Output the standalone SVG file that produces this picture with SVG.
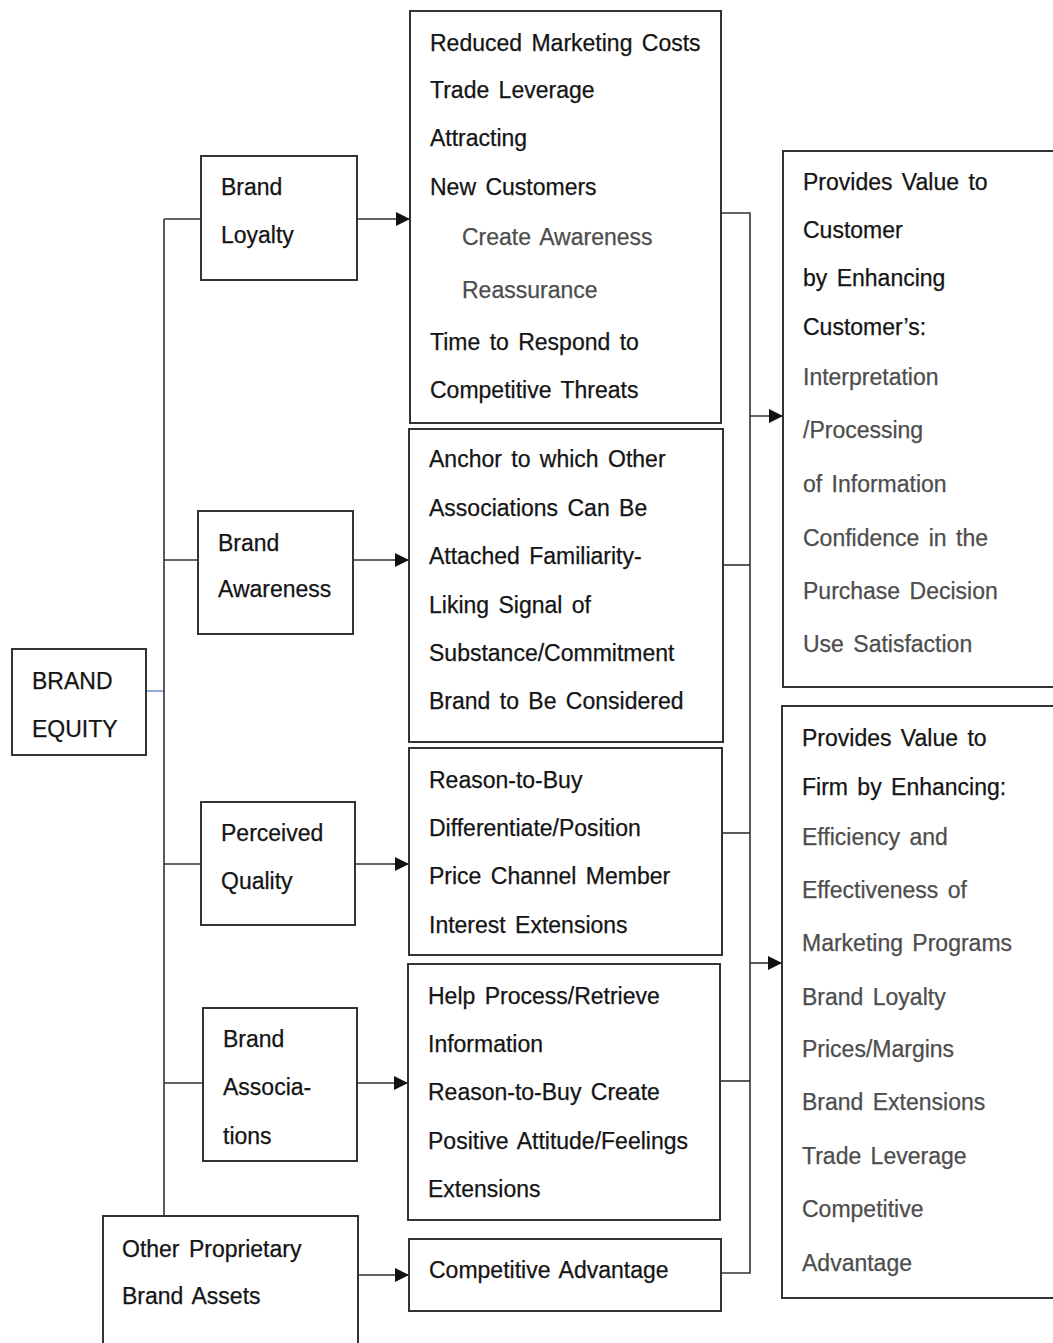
<svg xmlns="http://www.w3.org/2000/svg" width="1053" height="1343" viewBox="0 0 1053 1343">
<style>
  .box { fill: #fff; stroke: #333; stroke-width: 2; }
  .t { font-family: "Liberation Sans", Arial, sans-serif; font-size: 23px; fill: #141414; word-spacing: 3px; stroke: #141414; stroke-width: 0.25; }
  .g { fill: #4d4d4d; stroke: #4d4d4d; }
  .c { fill: none; stroke: #333; stroke-width: 1.6; }
</style>
<defs>
  <marker id="arr" markerUnits="userSpaceOnUse" markerWidth="15" markerHeight="14" refX="14" refY="7" orient="auto">
    <path d="M0,0 L14,7 L0,14 Z" fill="#111"/>
  </marker>
</defs>
<rect width="1053" height="1343" fill="#fff"/>

<g id="connectors">
  <line x1="147" y1="691" x2="164" y2="691" stroke="#4472c4" stroke-width="1.2"/>
  <path class="c" d="M164,219 V1216"/>
  <path class="c" d="M164,219 H201"/>
  <path class="c" d="M164,560 H198"/>
  <path class="c" d="M164,864 H201"/>
  <path class="c" d="M164,1083 H203"/>
  <path class="c" d="M357,219 H410" marker-end="url(#arr)"/>
  <path class="c" d="M353,560 H409" marker-end="url(#arr)"/>
  <path class="c" d="M355,864 H409" marker-end="url(#arr)"/>
  <path class="c" d="M357,1083 H408" marker-end="url(#arr)"/>
  <path class="c" d="M358,1275 H409" marker-end="url(#arr)"/>
  <path class="c" d="M721,213 H750 V1273 H721"/>
  <path class="c" d="M723,565 H750"/>
  <path class="c" d="M722,833 H750"/>
  <path class="c" d="M720,1081 H750"/>
  <path class="c" d="M750,416 H783" marker-end="url(#arr)"/>
  <path class="c" d="M750,963 H782" marker-end="url(#arr)"/>
</g>

<g id="brand-equity">
  <rect class="box" x="12" y="649" width="134" height="106"/>
  <text class="t" x="32" y="689">BRAND</text>
  <text class="t" x="32" y="737">EQUITY</text>
</g>

<g id="brand-loyalty">
  <rect class="box" x="201" y="156" width="156" height="124"/>
  <text class="t" x="221" y="195">Brand</text>
  <text class="t" x="221" y="243">Loyalty</text>
</g>

<g id="brand-awareness">
  <rect class="box" x="198" y="511" width="155" height="123"/>
  <text class="t" x="218" y="551">Brand</text>
  <text class="t" x="218" y="597">Awareness</text>
</g>

<g id="perceived-quality">
  <rect class="box" x="201" y="802" width="154" height="123"/>
  <text class="t" x="221" y="841">Perceived</text>
  <text class="t" x="221" y="889">Quality</text>
</g>

<g id="brand-associations">
  <rect class="box" x="203" y="1008" width="154" height="153"/>
  <text class="t" x="223" y="1047">Brand</text>
  <text class="t" x="223" y="1095">Associa-</text>
  <text class="t" x="223" y="1144">tions</text>
</g>

<g id="other-assets">
  <rect class="box" x="103" y="1216" width="255" height="140"/>
  <text class="t" x="122" y="1257">Other Proprietary</text>
  <text class="t" x="122" y="1304">Brand Assets</text>
</g>

<g id="loyalty-benefits">
  <rect class="box" x="410" y="11" width="311" height="412"/>
  <text class="t" x="430" y="51">Reduced Marketing Costs</text>
  <text class="t" x="430" y="98">Trade Leverage</text>
  <text class="t" x="430" y="146">Attracting</text>
  <text class="t" x="430" y="195">New Customers</text>
  <text class="t g" x="462" y="245">Create Awareness</text>
  <text class="t g" x="462" y="298">Reassurance</text>
  <text class="t" x="430" y="350">Time to Respond to</text>
  <text class="t" x="430" y="398">Competitive Threats</text>
</g>

<g id="awareness-benefits">
  <rect class="box" x="409" y="429" width="314" height="313"/>
  <text class="t" x="429" y="467">Anchor to which Other</text>
  <text class="t" x="429" y="516">Associations Can Be</text>
  <text class="t" x="429" y="564">Attached Familiarity-</text>
  <text class="t" x="429" y="613">Liking Signal of</text>
  <text class="t" x="429" y="661">Substance/Commitment</text>
  <text class="t" x="429" y="709">Brand to Be Considered</text>
</g>

<g id="quality-benefits">
  <rect class="box" x="409" y="748" width="313" height="207"/>
  <text class="t" x="429" y="788">Reason-to-Buy</text>
  <text class="t" x="429" y="836">Differentiate/Position</text>
  <text class="t" x="429" y="884">Price Channel Member</text>
  <text class="t" x="429" y="933">Interest Extensions</text>
</g>

<g id="association-benefits">
  <rect class="box" x="408" y="964" width="312" height="256"/>
  <text class="t" x="428" y="1004">Help Process/Retrieve</text>
  <text class="t" x="428" y="1052">Information</text>
  <text class="t" x="428" y="1100">Reason-to-Buy Create</text>
  <text class="t" x="428" y="1149">Positive Attitude/Feelings</text>
  <text class="t" x="428" y="1197">Extensions</text>
</g>

<g id="competitive-advantage">
  <rect class="box" x="409" y="1239" width="312" height="72"/>
  <text class="t" x="429" y="1278">Competitive Advantage</text>
</g>

<g id="customer-value">
  <rect class="box" x="783" y="151" width="290" height="536"/>
  <text class="t" x="803" y="190">Provides Value to</text>
  <text class="t" x="803" y="238">Customer</text>
  <text class="t" x="803" y="286">by Enhancing</text>
  <text class="t" x="803" y="335">Customer’s:</text>
  <text class="t g" x="803" y="385">Interpretation</text>
  <text class="t g" x="803" y="438">/Processing</text>
  <text class="t g" x="803" y="492">of Information</text>
  <text class="t g" x="803" y="546">Confidence in the</text>
  <text class="t g" x="803" y="599">Purchase Decision</text>
  <text class="t g" x="803" y="652">Use Satisfaction</text>
</g>

<g id="firm-value">
  <rect class="box" x="782" y="706" width="290" height="592"/>
  <text class="t" x="802" y="746">Provides Value to</text>
  <text class="t" x="802" y="795">Firm by Enhancing:</text>
  <text class="t g" x="802" y="845">Efficiency and</text>
  <text class="t g" x="802" y="898">Effectiveness of</text>
  <text class="t g" x="802" y="951">Marketing Programs</text>
  <text class="t g" x="802" y="1005">Brand Loyalty</text>
  <text class="t g" x="802" y="1057">Prices/Margins</text>
  <text class="t g" x="802" y="1110">Brand Extensions</text>
  <text class="t g" x="802" y="1164">Trade Leverage</text>
  <text class="t g" x="802" y="1217">Competitive</text>
  <text class="t g" x="802" y="1271">Advantage</text>
</g>
</svg>
